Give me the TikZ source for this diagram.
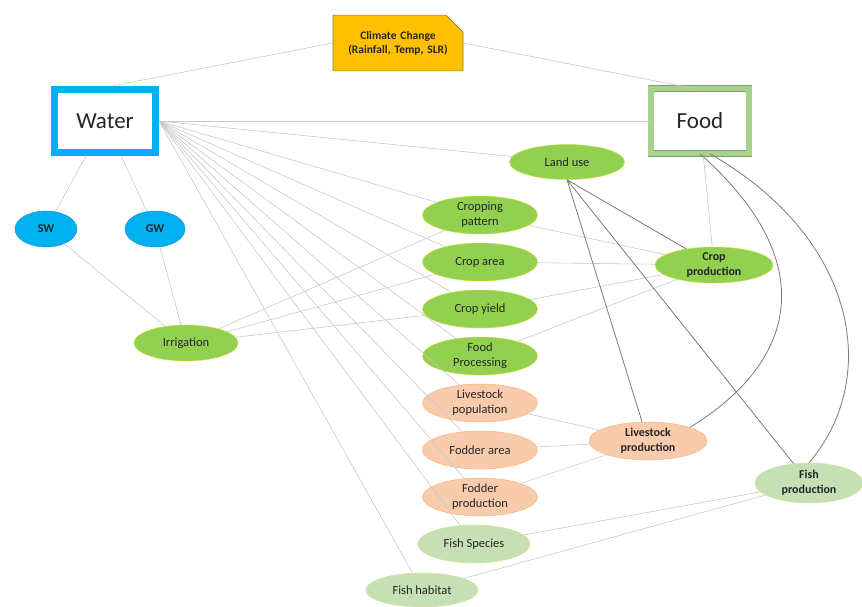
\documentclass[tikz,border=0pt]{standalone}
\usepackage{fontspec}
\setmainfont{Carlito}
\usepackage{xcolor}
\usepackage{tikz}
\usetikzlibrary{positioning,shapes}
\definecolor{climatefill}{HTML}{FFC000}
\definecolor{climateline}{HTML}{8C7A30}
\definecolor{waterblue}{HTML}{00B0F0}
\definecolor{foodgreen}{HTML}{A9D18E}
\definecolor{foodline}{HTML}{7F9F6A}
\definecolor{cropgreen}{HTML}{92D050}
\definecolor{stockorange}{HTML}{F8CBAD}
\definecolor{fishgreen}{HTML}{C5E0B4}
\definecolor{linkgray}{HTML}{C8C8C8}
\definecolor{stronggray}{HTML}{7A7A7A}
\definecolor{textgray}{HTML}{262626}
\tikzstyle{sector}=[rectangle, fill=white, text=textgray, font=\fontsize{23}{26}\selectfont]
\tikzstyle{factor}=[ellipse, minimum width=115pt, minimum height=38pt, inner sep=0pt,
        align=center, text=textgray, font=\fontsize{12.5}{15}\selectfont, line width=0.5pt]
\tikzstyle{cropitem}=[factor, fill=cropgreen, draw=yellow!55!cropgreen]
\tikzstyle{stockitem}=[factor, fill=stockorange, draw=orange!30!stockorange]
\tikzstyle{fishitem}=[factor, fill=fishgreen, draw=yellow!25!fishgreen]
\tikzstyle{output}=[font=\fontsize{12}{15}\selectfont\bfseries]
\tikzstyle{waterpart}=[ellipse, fill=waterblue, draw=waterblue!80!black, line width=0.4pt,
        minimum width=62pt, minimum height=36pt, inner sep=0pt, text=textgray,
        font=\fontsize{12}{14}\selectfont\bfseries]
\tikzstyle{link}=[draw=linkgray, line width=0.6pt]
\tikzstyle{strong}=[draw=stronggray, line width=0.8pt]

\begin{document}
\begin{tikzpicture}[x=1pt, y=-1pt, node distance=8.5pt]
        \useasboundingbox (0,0) rectangle (862,606);
        % drivers
        \node (Climate) [chamfered rectangle, chamfered rectangle corners=north east,
          chamfered rectangle xsep=9pt, chamfered rectangle ysep=8pt,
          fill=climatefill, draw=climateline, line width=0.6pt, text=textgray,
          text width=106pt, align=center, inner xsep=3pt, inner ysep=8pt,
          font=\fontsize{11.5}{14}\selectfont\bfseries] at (398,43)
        {Climate Change\\(Rainfall, Temp, SLR)};
        \node (Water) [sector, draw=waterblue, line width=7pt,
          minimum width=101pt, minimum height=63pt] at (105,121) {Water};
        \node (Food) [sector, draw=foodline, line width=0.6pt, double=foodgreen,
          double distance=5.5pt, minimum width=98pt, minimum height=65pt] at (700,121) {Food};

        % water side
        \node (SW) [waterpart] at (46,229) {SW};
        \node (GW) [waterpart, minimum width=60pt] at (155,229) {GW};
        \node (Irrigation) [cropitem, minimum width=104pt, minimum height=36pt] at (186,343) {Irrigation};

        % middle column
        \node (LandUse) [cropitem, minimum height=35pt] at (567,162) {Land use};
        \node (Cropping) [cropitem] at (480,215) {Cropping\\pattern};
        \node (CropArea) [cropitem, below=of Cropping] {Crop area};
        \node (CropYield) [cropitem, below=of CropArea] {Crop yield};
        \node (Processing) [cropitem, below=of CropYield] {Food\\Processing};
        \node (LivePop) [stockitem, below=of Processing] {Livestock\\population};
        \node (FodderArea) [stockitem, below=of LivePop] {Fodder area};
        \node (FodderProd) [stockitem, below=of FodderArea] {Fodder\\production};
        \node (FishSpecies) [fishitem, minimum width=112pt, below=of FodderProd, xshift=-6pt] {Fish Species};
        \node (FishHabitat) [fishitem, minimum width=112pt, minimum height=34pt] at (422,590) {Fish habitat};

        % production
        \node (CropProd) [cropitem, output, minimum width=118pt, minimum height=36pt] at (714,265) {Crop\\production};
        \node (LiveProd) [stockitem, output, minimum width=118pt] at (648,441) {Livestock\\production};
        \node (FishProd) [fishitem, output, minimum width=108pt, minimum height=40pt] at (809,483) {Fish\\production};

        % links
        \path[link] (Climate.west) -- ([xshift=7pt]Water.north) (Climate.east) -- ([xshift=-8pt]Food.north);
        \path[link] (Water.east) -- (Food.west);
        \path[link] (Water) -- (SW) (Water) -- (GW) (SW) -- (Irrigation) (GW) -- (Irrigation);
        \foreach \item in {LandUse, Cropping, CropArea, CropYield, Processing,
                           LivePop, FodderArea, FodderProd, FishSpecies, FishHabitat}
          \path[link] (Water.east) -- (\item);
        \foreach \item in {Cropping, CropArea, CropYield}
          \path[link] (Irrigation) -- (\item);
        \foreach \item in {Cropping, CropArea, CropYield, Processing}
          \path[link] (\item) -- (CropProd);
        \foreach \item in {LivePop, FodderArea, FodderProd}
          \path[link] (\item) -- (LiveProd);
        \foreach \item in {FishSpecies, FishHabitat}
          \path[link] (\item) -- (FishProd);
        \path[link] (Food) -- (CropProd);
        \path[strong] (LandUse.south) -- (CropProd) (LandUse.south) -- (LiveProd)
          (LandUse.south) -- (FishProd);
        \path[strong] (Food.south) .. controls (820,260) and (800,360) .. (LiveProd.north east);
        \path[strong] (Food.south) ++(10,0) .. controls (860,240) and (880,380) .. (FishProd.north);
\end{tikzpicture}
\end{document}
